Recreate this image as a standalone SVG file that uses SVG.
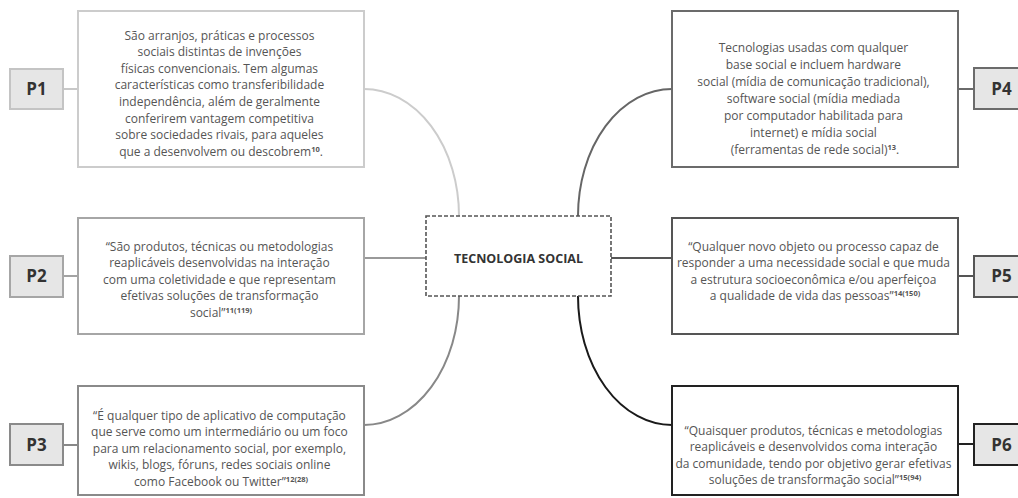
<svg xmlns="http://www.w3.org/2000/svg" width="1018" height="498" viewBox="0 0 1018 498">
<style>
.t{font-family:"Open Sans","Noto Sans",sans-serif;font-size:12px;fill:#555;text-anchor:middle}
.sup{font-size:7.5px;font-weight:bold}
.lbl{font-family:"Open Sans","Noto Sans",sans-serif;font-size:17px;font-weight:bold;fill:#333;text-anchor:middle}
.box{fill:#fff;stroke-width:2}
.lb{fill:#e6e6e6;stroke-width:2}
.c{fill:none;stroke-width:2}
.ctr{font-family:"Open Sans","Noto Sans",sans-serif;font-size:12.5px;font-weight:bold;fill:#333;text-anchor:middle}
</style>
<rect width="1018" height="498" fill="#fff"/>
<g id="connectors">
<path class="c" stroke="#c8c8c8" d="M63,89 H78"/>
<path class="c" stroke="#cccccc" d="M364,89 A95,127 0 0 1 459,216"/>
<path class="c" stroke="#a3a3a3" d="M63,276 H78"/>
<path class="c" stroke="#999" d="M364,258 H426"/>
<path class="c" stroke="#888" d="M63,445 H78"/>
<path class="c" stroke="#888" d="M364,425 A95,129 0 0 0 459,296"/>
<path class="c" stroke="#6a6a6a" d="M958,89 H974"/>
<path class="c" stroke="#666" d="M672,89 A94,127 0 0 0 578,216"/>
<path class="c" stroke="#555" d="M958,276 H974"/>
<path class="c" stroke="#555" d="M611,258 H672"/>
<path class="c" stroke="#222" d="M958,444 H974"/>
<path class="c" stroke="#1a1a1a" d="M672,425 A94,129 0 0 1 578,296"/>
</g>
<g id="center">
<rect x="426" y="216" width="185" height="80" fill="#fff" stroke="#555" stroke-width="1.6" stroke-dasharray="4 2"/>
<text class="ctr" x="518.5" y="262.5">TECNOLOGIA SOCIAL</text>
</g>
<g id="p1">
<rect class="box" x="78" y="11" width="286" height="156" stroke="#cccccc"/>
<text class="t">
<tspan x="221" y="39.5">São arranjos, práticas e processos</tspan>
<tspan x="221" y="56.1">sociais distintas de invenções</tspan>
<tspan x="221" y="72.7">físicas convencionais. Tem algumas</tspan>
<tspan x="221" y="89.3">características como transferibilidade</tspan>
<tspan x="221" y="105.9">independência, além de geralmente</tspan>
<tspan x="221" y="122.5">conferirem vantagem competitiva</tspan>
<tspan x="221" y="139.1">sobre sociedades rivais, para aqueles</tspan>
<tspan x="221" y="155.7">que a desenvolvem ou descobrem<tspan class="sup" dy="-4">10</tspan><tspan dy="4">.</tspan></tspan>
</text>
<rect class="lb" x="10" y="69" width="53" height="40" stroke="#c4c4c4"/>
<text class="lbl" x="36.5" y="95">P1</text>
</g>
<g id="p2">
<rect class="box" x="78" y="218" width="286" height="116" stroke="#a6a6a6"/>
<text class="t">
<tspan x="221" y="250.5">“São produtos, técnicas ou metodologias</tspan>
<tspan x="221" y="267">reaplicáveis desenvolvidas na interação</tspan>
<tspan x="221" y="283.5">com uma coletividade e que representam</tspan>
<tspan x="221" y="300">efetivas soluções de transformação</tspan>
<tspan x="221" y="316.5">social”<tspan class="sup" dy="-4">11(119)</tspan></tspan>
</text>
<rect class="lb" x="10" y="256" width="53" height="41" stroke="#a6a6a6"/>
<text class="lbl" x="36.5" y="282">P2</text>
</g>
<g id="p3">
<rect class="box" x="78" y="386" width="286" height="109" stroke="#8a8a8a"/>
<text class="t">
<tspan x="221" y="419.5">“É qualquer tipo de aplicativo de computação</tspan>
<tspan x="221" y="436">que serve como um intermediário ou um foco</tspan>
<tspan x="221" y="452.5">para um relacionamento social, por exemplo,</tspan>
<tspan x="221" y="469">wikis, blogs, fóruns, redes sociais online</tspan>
<tspan x="221" y="485.5">como Facebook ou Twitter”<tspan class="sup" dy="-4">12(28)</tspan></tspan>
</text>
<rect class="lb" x="10" y="424" width="53" height="41" stroke="#8a8a8a"/>
<text class="lbl" x="36.5" y="451">P3</text>
</g>
<g id="p4">
<rect class="box" x="672" y="11" width="286" height="156" stroke="#6b6b6b"/>
<text class="t">
<tspan x="815" y="51.5">Tecnologias usadas com qualquer</tspan>
<tspan x="815" y="68.5">base social e incluem hardware</tspan>
<tspan x="815" y="85.5">social (mídia de comunicação tradicional),</tspan>
<tspan x="815" y="102.5">software social (mídia mediada</tspan>
<tspan x="815" y="119.5">por computador habilitada para</tspan>
<tspan x="815" y="136.5">internet) e mídia social</tspan>
<tspan x="815" y="153.5">(ferramentas de rede social)<tspan class="sup" dy="-4">13</tspan><tspan dy="4">.</tspan></tspan>
</text>
<rect class="lb" x="974" y="68" width="55" height="41" stroke="#6b6b6b"/>
<text class="lbl" x="1001.5" y="95">P4</text>
</g>
<g id="p5">
<rect class="box" x="672" y="218" width="286" height="116" stroke="#555"/>
<text class="t">
<tspan x="815" y="250.5">“Qualquer novo objeto ou processo capaz de</tspan>
<tspan x="815" y="267">responder a uma necessidade social e que muda</tspan>
<tspan x="815" y="283.5">a estrutura socioeconômica e/ou aperfeiçoa</tspan>
<tspan x="815" y="300">a qualidade de vida das pessoas”<tspan class="sup" dy="-4">14(150)</tspan></tspan>
</text>
<rect class="lb" x="974" y="256" width="55" height="41" stroke="#555"/>
<text class="lbl" x="1001.5" y="282">P5</text>
</g>
<g id="p6">
<rect class="box" x="672" y="386" width="286" height="109" stroke="#222"/>
<text class="t">
<tspan x="815" y="434.5">“Quaisquer produtos, técnicas e metodologias</tspan>
<tspan x="815" y="451">reaplicáveis e desenvolvidos coma interação</tspan>
<tspan x="815" y="467.5">da comunidade, tendo por objetivo gerar efetivas</tspan>
<tspan x="815" y="484">soluções de transformação social”<tspan class="sup" dy="-4">15(94)</tspan></tspan>
</text>
<rect class="lb" x="974" y="424" width="55" height="41" stroke="#222"/>
<text class="lbl" x="1001.5" y="451">P6</text>
</g>
</svg>
